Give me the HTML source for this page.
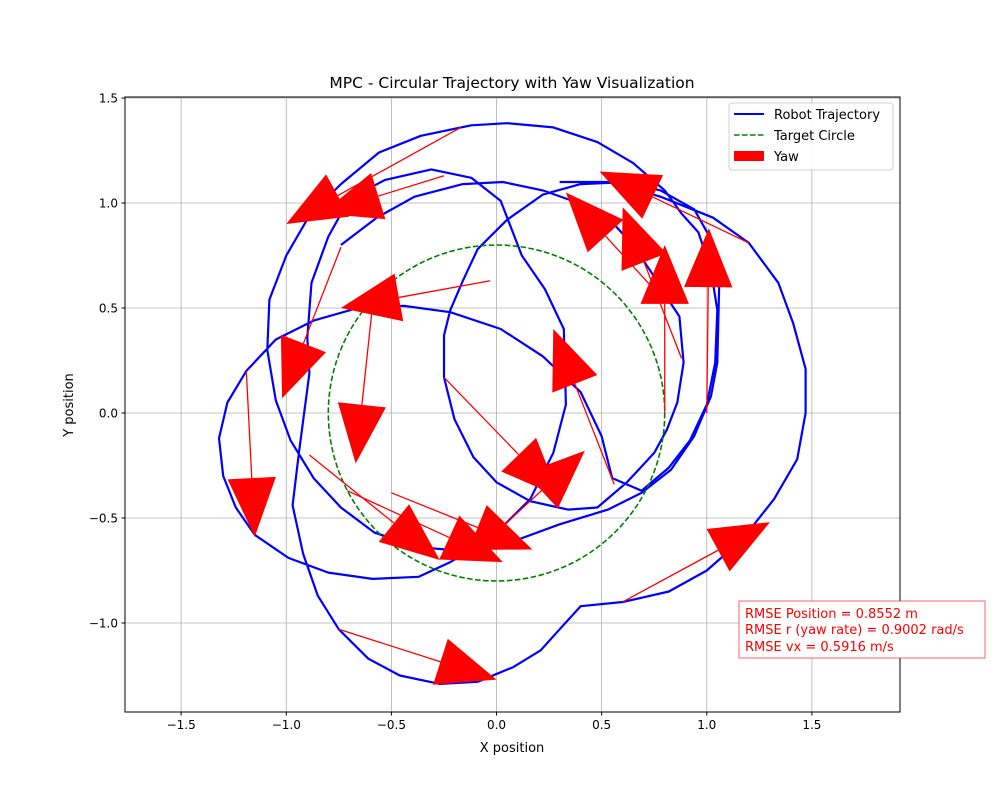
<!DOCTYPE html>
<html><head><meta charset="utf-8"><style>
body{margin:0;background:#fff;}
svg{display:block;font-family:"DejaVu Sans","Liberation Sans",sans-serif;}
</style></head><body>
<svg id="chart" width="1000" height="800" viewBox="0 0 1000 800">
<rect width="1000" height="800" fill="#fff"/>
<defs><clipPath id="clip"><rect x="125" y="97" width="775" height="615"/></clipPath></defs>
<text x="512" y="88" font-size="15.5" text-anchor="middle">MPC - Circular Trajectory with Yaw Visualization</text>
<g id="grid"></g>
<g id="plot" clip-path="url(#clip)"></g>
<rect x="125" y="97" width="775" height="615" fill="none" stroke="#000" stroke-width="1"/>
<g id="ticks"></g>
<text x="512" y="752" font-size="13" text-anchor="middle">X position</text>
<text x="73" y="405" font-size="13" text-anchor="middle" transform="rotate(-90 73 405)">Y position</text>
<g>
<rect x="729" y="103" width="164" height="67" rx="3" fill="#fff" fill-opacity="0.85" stroke="#d0d0d0"/>
<g><line x1="734" y1="114" x2="764" y2="114" stroke="#0000ff" stroke-width="2"/><text x="774" y="119" font-size="13">Robot Trajectory</text></g>
<g><line x1="734" y1="135" x2="764" y2="135" stroke="#008000" stroke-width="1.5" stroke-dasharray="5.5,2.5"/><text x="774" y="140" font-size="13">Target Circle</text></g>
<g><rect x="734" y="151" width="30" height="10" fill="#ff0000"/><text x="774" y="161" font-size="13">Yaw</text></g>
</g>
<g>
<rect x="739" y="601" width="246" height="57" fill="#fff" stroke="#ff0000" stroke-opacity="0.6"/>
<text x="745" y="618" font-size="13" fill="#ff0000">RMSE Position = 0.8552 m</text>
<text x="745" y="634" font-size="13" fill="#ff0000">RMSE r (yaw rate) = 0.9002 rad/s</text>
<text x="745" y="651" font-size="13" fill="#ff0000">RMSE vx = 0.5916 m/s</text>
</g>
</svg>
<script>
const xTicks=[-1.5,-1.0,-0.5,0.0,0.5,1.0,1.5];
const yTicks=[-1.0,-0.5,0.0,0.5,1.0,1.5];
const targetRadius=0.8;
const trajX=[-0.74,-0.57,-0.39,-0.16,0.03,0.22,0.39,0.53,0.64,0.73,0.81,0.87,0.89,0.86,0.81,0.75,0.62,0.48,0.34,0.16,0.00,-0.11,-0.20,-0.25,-0.25,-0.22,-0.16,-0.09,0.05,0.22,0.40,0.62,0.78,0.94,1.03,1.06,1.05,1.02,0.94,0.83,0.69,0.53,0.30,0.11,-0.12,-0.36,-0.58,-0.74,-0.87,-0.98,-1.05,-1.09,-1.08,-1.00,-0.89,-0.74,-0.56,-0.36,-0.12,0.05,0.27,0.48,0.65,0.80,0.88,0.96,1.02,1.05,1.04,1.00,0.92,0.82,0.69,0.55,0.50,0.40,0.22,0.02,-0.22,-0.44,-0.66,-0.87,-1.05,-1.19,-1.28,-1.32,-1.30,-1.24,-1.15,-0.99,-0.80,-0.59,-0.37,-0.22,-0.03,0.16,0.27,0.33,0.32,0.23,0.12,0.02,-0.12,-0.31,-0.53,-0.70,-0.80,-0.88,-0.90,-0.89,-0.94,-0.97,-0.92,-0.85,-0.75,-0.61,-0.46,-0.27,-0.09,0.08,0.21,0.30,0.40,0.60,0.82,1.00,1.17,1.32,1.43,1.47,1.47,1.41,1.34,1.20,1.03,0.78,0.54,0.30];
const trajY=[0.80,0.93,1.03,1.09,1.10,1.06,1.00,0.93,0.81,0.68,0.55,0.46,0.24,0.05,-0.08,-0.19,-0.33,-0.45,-0.46,-0.42,-0.33,-0.21,-0.03,0.17,0.37,0.49,0.63,0.78,0.92,1.04,1.09,1.10,1.06,0.97,0.81,0.65,0.24,0.08,-0.11,-0.27,-0.38,-0.46,-0.53,-0.60,-0.66,-0.64,-0.57,-0.45,-0.31,-0.13,0.06,0.30,0.54,0.75,0.94,1.09,1.24,1.32,1.37,1.38,1.36,1.29,1.19,1.06,0.95,0.86,0.68,0.49,0.24,0.04,-0.13,-0.26,-0.37,-0.31,-0.11,0.10,0.27,0.40,0.48,0.51,0.50,0.44,0.35,0.20,0.05,-0.12,-0.30,-0.45,-0.58,-0.69,-0.76,-0.79,-0.78,-0.71,-0.60,-0.41,-0.19,0.04,0.40,0.59,0.75,1.01,1.12,1.16,1.11,1.02,0.84,0.62,0.36,0.19,-0.19,-0.44,-0.67,-0.87,-1.03,-1.17,-1.25,-1.29,-1.28,-1.21,-1.13,-1.03,-0.92,-0.90,-0.85,-0.75,-0.60,-0.41,-0.22,0.00,0.21,0.43,0.62,0.81,0.93,1.03,1.10,1.10];
const arrowX=[-0.17,-0.25,-0.03,-0.74,-0.59,-1.19,-0.75,-0.89,-0.71,-0.50,-0.25,0.04,0.56,1.20,0.73,0.88,0.80,1.00,0.60];
const arrowY=[1.36,1.13,0.63,0.79,0.51,0.20,-1.03,-0.20,-0.37,-0.38,0.17,-0.53,-0.34,0.81,0.61,0.26,0.00,0.00,-0.90];
const arrowDX=[-0.83,-0.58,-0.71,-0.28,-0.08,0.04,0.75,0.62,0.74,0.67,0.55,0.38,-0.29,-0.71,-0.40,-0.28,0.00,0.01,0.70];
const arrowDY=[-0.46,-0.18,-0.13,-0.72,-0.75,-0.79,-0.24,-0.50,-0.34,-0.27,-0.57,0.35,0.74,0.34,0.44,0.72,0.80,0.88,0.38];
const headW=0.23, headL=0.28;

const NS="http://www.w3.org/2000/svg";
const X0=125,X1=900,Y0=97,Y1=712,xmin=-1.767,xmax=1.919,ymin=-1.424,ymax=1.505;
function sx(v){return X0+(v-xmin)/(xmax-xmin)*(X1-X0);}
function sy(v){return Y1-(v-ymin)/(ymax-ymin)*(Y1-Y0);}
function mk(tag,attrs,parent){const e=document.createElementNS(NS,tag);for(const k in attrs)e.setAttribute(k,attrs[k]);parent.appendChild(e);return e;}
const grid=document.getElementById('grid'),plot=document.getElementById('plot'),ticks=document.getElementById('ticks');
function fmt(v){return (v<0?'\u2212':'')+Math.abs(v).toFixed(1);}
xTicks.forEach(t=>{
  const g=mk('line',{x1:sx(t),x2:sx(t),y1:Y0,y2:Y1,stroke:'#b0b0b0','stroke-width':0.8},grid);
  
  
  const tk=mk('line',{x1:sx(t),x2:sx(t),y1:Y1,y2:Y1+3.5,stroke:'#000'},ticks);
  
  
  const tx=mk('text',{x:sx(t),y:Y1+17,'font-size':12,'text-anchor':'middle'},ticks);
  tx.textContent=fmt(t);
  
  
});
yTicks.forEach(t=>{
  const g=mk('line',{x1:X0,x2:X1,y1:sy(t),y2:sy(t),stroke:'#b0b0b0','stroke-width':0.8},grid);
  
  
  const tk=mk('line',{x1:X0-3.5,x2:X0,y1:sy(t),y2:sy(t),stroke:'#000'},ticks);
  
  
  const tx=mk('text',{x:X0-7,y:sy(t)+4.5,'font-size':12,'text-anchor':'end'},ticks);
  tx.textContent=fmt(t);
  
  
});
// trajectory
let d='';trajX.forEach((x,i)=>{d+=(i?'L':'M')+sx(x).toFixed(1)+','+sy(trajY[i]).toFixed(1);});
const tr=mk('path',{d:d,fill:'none',stroke:'#0000ff','stroke-width':2.2,'stroke-linejoin':'round'},plot);


// target circle
const c=mk('ellipse',{cx:sx(0),cy:sy(0),rx:sx(targetRadius)-sx(0),ry:sy(0)-sy(targetRadius),fill:'none',stroke:'#008000','stroke-width':1.6,'stroke-dasharray':'5.5,2.5'},plot);


// arrows
const kx=(X1-X0)/(xmax-xmin);
arrowX.forEach((x,i)=>{
  const x0=sx(x),y0=sy(arrowY[i]),x1=sx(x+arrowDX[i]),y1=sy(arrowY[i]+arrowDY[i]);
  const L=Math.hypot(x1-x0,y1-y0),ux=(x1-x0)/L,uy=(y1-y0)/L;
  const hl=headL*kx,hw=headW*kx/2;
  const bx=x1-ux*hl,by=y1-uy*hl;
  const g=mk('g',{},plot);
  
  
  mk('line',{x1:x0,y1:y0,x2:bx,y2:by,stroke:'#ff0000','stroke-width':1.3},g);
  mk('polygon',{points:`${x1},${y1} ${bx-uy*hw},${by+ux*hw} ${bx+uy*hw},${by-ux*hw}`,fill:'#ff0000'},g);
});
</script>
</body></html>
